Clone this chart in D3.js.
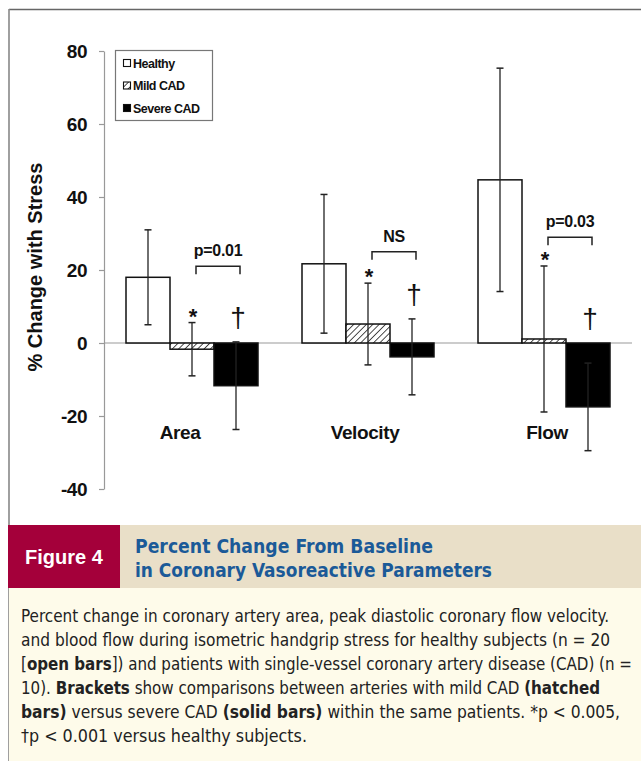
<!DOCTYPE html>
<html>
<head>
<meta charset="utf-8">
<script src="https://cdn.jsdelivr.net/npm/d3@7"></script>
<style>
  html, body { margin: 0; padding: 0; background: #ffffff; }
  svg { display: block; }
  .narrow { font-family: "Liberation Sans Narrow", "Arial Narrow", "DejaVu Sans Condensed", sans-serif; }
</style>
</head>
<body>
<svg id="chart" width="641" height="761"></svg>
<script>
// ---------------- data ----------------
const categories = ["Area", "Velocity", "Flow"];
const series = ["Healthy", "Mild CAD", "Severe CAD"];
const healthy = [18.0, 21.7, 44.7];
const healthyErr = [13.0, 19.0, 30.6];
const mild = [-1.7, 5.2, 1.1];
const mildErr = [7.3, 11.2, 20.0];
const severe = [-11.7, -3.8, -17.5];
const severeErr = [12.0, 10.4, 12.0];
const pLabels = ["p=0.01", "NS", "p=0.03"];
const bracketLevel = [21, 25, 29];
const yTicks = [-40, -20, 0, 20, 40, 60, 80];
const yTitle = "% Change with Stress";
const figLabel = "Figure 4";
const figTitle = ["Percent Change From Baseline", "in Coronary Vasoreactive Parameters"];
const captionLines = [
  [["Percent change in coronary artery area, peak diastolic coronary flow velocity.", false]],
  [["and blood flow during isometric handgrip stress for healthy subjects (n = 20", false]],
  [["[", false], ["open bars", true], ["]) and patients with single-vessel coronary artery disease (CAD) (n =", false]],
  [["10). ", false], ["Brackets", true], [" show comparisons between arteries with mild CAD ", false], ["(hatched", true]],
  [["bars)", true], [" versus severe CAD ", false], ["(solid bars)", true], [" within the same patients. *p < 0.005,", false]],
  [["\u2020p < 0.001 versus healthy subjects.", false]]
];

const values = [healthy, mild, severe];
const errors = [healthyErr, mildErr, severeErr];

// ---------------- layout ----------------
const svg = d3.select("#chart");
const FONT = "'Liberation Sans', Arial, Helvetica, sans-serif";

const defs = svg.append("defs");
const pat = defs.append("pattern")
  .attr("id", "hatch").attr("patternUnits", "userSpaceOnUse")
  .attr("width", 4.5).attr("height", 4.5)
  .attr("patternTransform", "rotate(45)");
pat.append("rect").attr("width", 4.5).attr("height", 4.5).attr("fill", "#fff");
pat.append("line").attr("x1", 0).attr("y1", 0).attr("x2", 0).attr("y2", 4.5)
  .attr("stroke", "#222").attr("stroke-width", 1.6);

// frame
svg.append("line").attr("x1", 9).attr("y1", 9.5).attr("x2", 641).attr("y2", 9.5)
  .attr("stroke", "#666").attr("stroke-width", 1.6);
svg.append("line").attr("x1", 9).attr("y1", 9).attr("x2", 9).attr("y2", 761)
  .attr("stroke", "#888").attr("stroke-width", 1.6);

const y = d3.scaleLinear().domain([-40, 80]).range([489, 51]);
const x0 = d3.scaleBand().domain(categories).range([104, 632]).paddingInner(0.25).paddingOuter(0.125);
const x1 = d3.scaleBand().domain(series).range([0, x0.bandwidth()]);

// y axis
const yAxis = svg.append("g").attr("transform", "translate(104,0)")
  .call(d3.axisLeft(y).tickValues(yTicks).tickSize(5).tickSizeOuter(0).tickPadding(12).tickFormat(d => String(d)));
yAxis.select(".domain").attr("stroke", "#999").attr("stroke-width", 1.2);
yAxis.selectAll(".tick line").attr("stroke", "#999").attr("stroke-width", 1.2);
yAxis.selectAll(".tick text")
  .attr("font-family", FONT).attr("font-weight", "bold").attr("font-size", 19)
  .attr("fill", "#111").attr("letter-spacing", -0.5);

// y title
svg.append("text").attr("transform", "translate(42,267) rotate(-90)")
  .attr("text-anchor", "middle").attr("font-family", FONT).attr("font-weight", "bold")
  .attr("font-size", 20).attr("fill", "#111").text(yTitle);

// zero line
svg.append("line").attr("x1", 104).attr("x2", 632).attr("y1", y(0)).attr("y2", y(0))
  .attr("stroke", "#999").attr("stroke-width", 1.2);

// bars
const fills = ["#ffffff", "url(#hatch)", "#000000"];
const groups = svg.selectAll("g.grp").data(categories).join("g")
  .attr("class", "grp").attr("transform", d => `translate(${x0(d)},0)`);

series.forEach((s, si) => {
  groups.append("rect")
    .attr("x", x1(s))
    .attr("width", x1.bandwidth())
    .attr("y", (d, i) => y(Math.max(0, values[si][i])))
    .attr("height", (d, i) => Math.abs(y(values[si][i]) - y(0)))
    .attr("fill", fills[si]).attr("stroke", "#111").attr("stroke-width", 1.5);
});

// error bars
series.forEach((s, si) => {
  const cx = x1(s) + x1.bandwidth() / 2;
  groups.append("line")
    .attr("x1", cx).attr("x2", cx)
    .attr("y1", (d, i) => y(values[si][i] + errors[si][i]))
    .attr("y2", (d, i) => y(values[si][i] - errors[si][i]))
    .attr("stroke", "#222").attr("stroke-width", 1.3);
  [1, -1].forEach(sg => {
    groups.append("line")
      .attr("x1", cx - 3.5).attr("x2", cx + 3.5)
      .attr("y1", (d, i) => y(values[si][i] + sg * errors[si][i]))
      .attr("y2", (d, i) => y(values[si][i] + sg * errors[si][i]))
      .attr("stroke", "#222").attr("stroke-width", 1.5);
  });
});

// stars (mild) and daggers (severe)
const mildCx = x1("Mild CAD") + x1.bandwidth() / 2;
const sevCx = x1("Severe CAD") + x1.bandwidth() / 2;
groups.append("text")
  .attr("x", mildCx + 1)
  .attr("y", (d, i) => y(mild[i] + mildErr[i]) + 1)
  .attr("text-anchor", "middle").attr("font-family", FONT).attr("font-weight", "bold")
  .attr("font-size", 22).attr("fill", "#111").text("*");
groups.append("text")
  .attr("x", sevCx + 2)
  .attr("y", (d, i) => Math.min(y(severe[i] + severeErr[i]), y(0)) - 15)
  .attr("text-anchor", "middle").attr("font-family", FONT)
  .attr("font-size", 28).attr("fill", "#111").text("\u2020");

// brackets
groups.append("path")
  .attr("d", (d, i) => {
    const xa = mildCx + 4, xb = sevCx + 4, yt = y(bracketLevel[i]);
    return `M${xa},${yt + 8}V${yt}H${xb}V${yt + 8}`;
  })
  .attr("fill", "none").attr("stroke", "#222").attr("stroke-width", 1.5);
groups.append("text")
  .attr("x", (mildCx + sevCx) / 2 + 4)
  .attr("y", (d, i) => y(bracketLevel[i]) - 10)
  .attr("text-anchor", "middle").attr("font-family", FONT).attr("font-weight", "bold")
  .attr("font-size", 16).attr("fill", "#111").attr("letter-spacing", -0.3)
  .text((d, i) => pLabels[i]);

// category labels
const labelDx = [-12, -3, 3];
groups.append("text")
  .attr("x", (d, i) => x0.bandwidth() / 2 + labelDx[i])
  .attr("y", 439)
  .attr("text-anchor", "middle").attr("font-family", FONT).attr("font-weight", "bold")
  .attr("font-size", 19).attr("fill", "#111").attr("letter-spacing", -0.4)
  .text(d => d);

// legend
const lg = svg.append("g");
lg.append("rect").attr("x", 115.5).attr("y", 50.5).attr("width", 97).attr("height", 70)
  .attr("fill", "#fff").attr("stroke", "#777").attr("stroke-width", 1.2);
series.forEach((s, si) => {
  const cy = 63 + si * 22.5;
  lg.append("rect").attr("x", 123.5).attr("y", cy - 3.5).attr("width", 7).attr("height", 7)
    .attr("fill", fills[si]).attr("stroke", "#111").attr("stroke-width", 1.1);
  lg.append("text").attr("x", 133).attr("y", cy + 4.5)
    .attr("font-family", FONT).attr("font-weight", "bold").attr("font-size", 12.5)
    .attr("letter-spacing", -0.5).attr("fill", "#111").text(s);
});

// ---------------- caption ----------------
svg.append("rect").attr("x", 9).attr("y", 588).attr("width", 632).attr("height", 173).attr("fill", "#fefbea");
svg.append("rect").attr("x", 120).attr("y", 525).attr("width", 521).attr("height", 63).attr("fill", "#e9dfc8");
svg.append("rect").attr("x", 8).attr("y", 525).attr("width", 112).attr("height", 63).attr("fill", "#a4003a");
svg.append("text").attr("x", 64).attr("y", 564).attr("text-anchor", "middle")
  .attr("font-family", FONT).attr("font-weight", "bold").attr("font-size", 20)
  .attr("fill", "#fff").text(figLabel);
const titleLen = [298, 357];
figTitle.forEach((t, i) => {
  svg.append("text").attr("class", "narrow").attr("x", 135).attr("y", 553 + i * 24)
    .attr("font-weight", "bold").attr("font-size", 19.5).attr("fill", "#1b5a98")
    .attr("textLength", titleLen[i]).attr("lengthAdjust", "spacingAndGlyphs").text(t);
});
const lineLen = [588, 589, 611, 579, 599, 286];
captionLines.forEach((parts, i) => {
  const t = svg.append("text").attr("class", "narrow").attr("x", 21).attr("y", 622 + i * 24)
    .attr("font-size", 17).attr("fill", "#222")
    .attr("textLength", lineLen[i]).attr("lengthAdjust", "spacingAndGlyphs");
  parts.forEach(([s, b]) => {
    t.append("tspan").attr("font-weight", b ? "bold" : "normal").text(s);
  });
});
</script>
</body>
</html>
